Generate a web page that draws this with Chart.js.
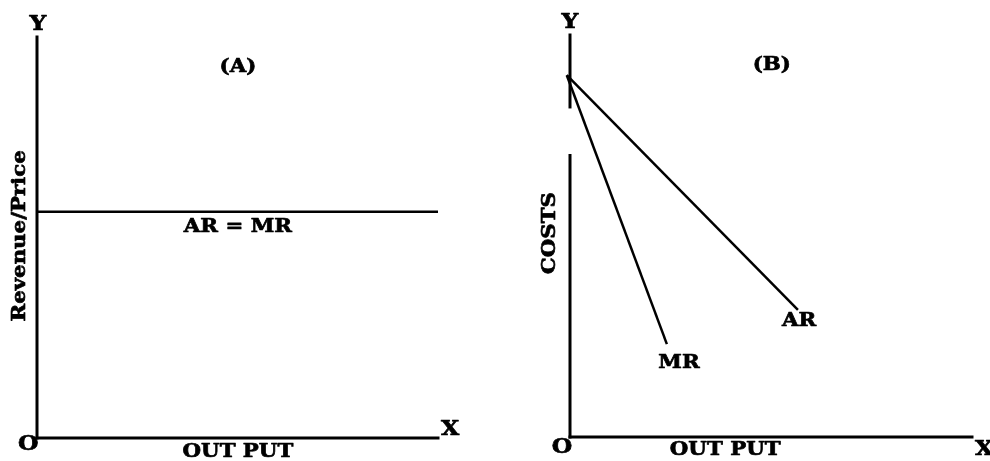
<!DOCTYPE html>
<html lang="en">
<head>
    <meta charset="UTF-8">
    <title>AR and MR under perfect and imperfect competition</title>
    <script src="https://cdn.jsdelivr.net/npm/chart.js"></script>
    <style>
        body { margin: 0; background: #fff; }
        #wrap { position: relative; width: 990px; height: 461px; }
        #chartA, #chartB { position: absolute; top: 0; }
        #chartA { left: 0; }
        #chartB { left: 495px; }
    </style>
</head>
<body>
    <div id="wrap">
        <canvas id="chartA" width="495" height="461"></canvas>
        <canvas id="chartB" width="495" height="461"></canvas>
    </div>

    <script>
        // panel A: horizontal AR = MR line
        const priceA = 5.64;
        const arMrA = [{x: 0, y: priceA}, {x: 10, y: priceA}];
        const yAxisA = [[0, 10]];
        const labelsA = [
            {text: 'Y', x: 0.02, y: 10.32, size: 21},
            {text: '(A)', x: 5.01, y: 9.25, size: 19},
            {text: 'AR = MR', x: 5.01, y: 5.26, size: 19},
            {text: 'Revenue/Price', x: -0.41, y: 5.04, size: 19, rot: -90},
            {text: 'O', x: -0.22, y: -0.17, size: 21},
            {text: 'OUT PUT', x: 5.01, y: -0.34, size: 19},
            {text: 'X', x: 10.3, y: 0.22, size: 21}
        ];

        // panel B: downward sloping AR and MR
        const arB = [{x: -0.08, y: 9.0}, {x: 5.67, y: 3.16}];
        const mrB = [{x: -0.08, y: 9.0}, {x: 2.41, y: 2.31}];
        const yAxisB = [[0, 7.0], [8.21, 10]];
        const labelsB = [
            {text: 'Y', x: 0, y: 10.3, size: 21},
            {text: '(B)', x: 5.02, y: 9.25, size: 19},
            {text: 'AR', x: 5.70, y: 2.89, size: 19},
            {text: 'MR', x: 2.71, y: 1.84, size: 19},
            {text: 'COSTS', x: -0.49, y: 5.07, size: 19, rot: -90},
            {text: 'O', x: -0.2, y: -0.27, size: 21},
            {text: 'OUT PUT', x: 3.86, y: -0.32, size: 19},
            {text: 'X', x: 10.3, y: -0.32, size: 21}
        ];

        const FONT = '"DejaVu Serif"';
        const STRETCH = 1.12;   // the original lettering is a wide, heavy Bookman-like face

        // axes and text drawn through the chart's own scales
        const diagramPlugin = {
            id: 'diagram',
            beforeDatasetsDraw(chart, args, opts) {
                const ctx = chart.ctx;
                const xs = chart.scales.x, ys = chart.scales.y;
                ctx.save();
                ctx.strokeStyle = '#000';
                ctx.lineWidth = 3;
                ctx.lineCap = 'square';
                const x0 = xs.getPixelForValue(0);
                opts.ySegments.forEach(seg => {
                    ctx.beginPath();
                    ctx.moveTo(x0, ys.getPixelForValue(seg[0]));
                    ctx.lineTo(x0, ys.getPixelForValue(seg[1]));
                    ctx.stroke();
                });
                const y0 = ys.getPixelForValue(0);
                ctx.beginPath();
                ctx.moveTo(x0, y0);
                ctx.lineTo(xs.getPixelForValue(10), y0);
                ctx.stroke();
                ctx.restore();
            },
            afterDraw(chart, args, opts) {
                const ctx = chart.ctx;
                const xs = chart.scales.x, ys = chart.scales.y;
                ctx.save();
                ctx.fillStyle = '#000';
                ctx.strokeStyle = '#000';
                ctx.lineWidth = 0.7;
                ctx.lineJoin = 'round';
                ctx.textAlign = 'center';
                ctx.textBaseline = 'middle';
                opts.labels.forEach(l => {
                    ctx.save();
                    ctx.translate(xs.getPixelForValue(l.x), ys.getPixelForValue(l.y));
                    if (l.rot) ctx.rotate(l.rot * Math.PI / 180);
                    ctx.scale(STRETCH, 1);
                    ctx.font = 'bold ' + l.size + 'px ' + FONT;
                    ctx.fillText(l.text, 0, 0);
                    ctx.strokeText(l.text, 0, 0);
                    ctx.restore();
                });
                ctx.restore();
            }
        };

        function lineSet(data) {
            return {data: data, showLine: true, borderColor: '#000', borderWidth: 2.5,
                    pointRadius: 0, clip: false, fill: false};
        }

        function makeChart(id, datasets, ySegments, labels, padding) {
            return new Chart(document.getElementById(id), {
                type: 'scatter',
                data: {datasets: datasets},
                options: {
                    responsive: false,
                    animation: false,
                    layout: {padding: padding},
                    scales: {
                        x: {type: 'linear', min: 0, max: 10, display: false},
                        y: {type: 'linear', min: 0, max: 10, display: false}
                    },
                    plugins: {
                        legend: {display: false},
                        tooltip: {enabled: false},
                        diagram: {ySegments: ySegments, labels: labels}
                    }
                },
                plugins: [diagramPlugin]
            });
        }

        function drawAll() {
            makeChart('chartA', [lineSet(arMrA)], yAxisA, labelsA, {left: 37, right: 57, top: 37, bottom: 23});
            makeChart('chartB', [lineSet(arB), lineSet(mrB)], yAxisB, labelsB, {left: 75, right: 18, top: 35, bottom: 24});
        }

        document.fonts.load('bold 19px ' + FONT).then(drawAll, drawAll);
    </script>
</body>
</html>
